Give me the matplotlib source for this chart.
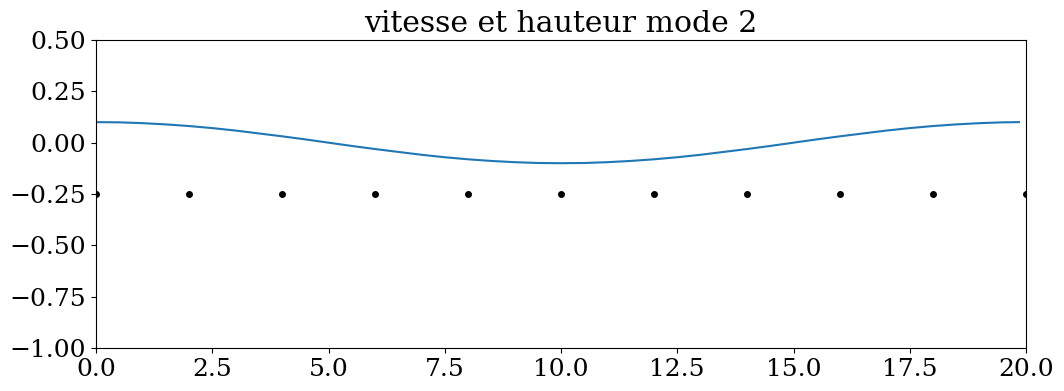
import matplotlib.pyplot as plt
import numpy as np

plt.rcParams['font.family'] = 'DejaVu Serif'
plt.rcParams['font.size'] = 18

# surface height
xs = [0.0, 0.5, 1.0, 1.5, 2.0, 2.5, 3.0, 3.5, 4.0, 4.5, 5.0, 5.5, 6.0, 6.5, 7.0,
      7.5, 8.0, 8.5, 9.0, 9.5, 10.0, 10.5, 11.0, 11.5, 12.0, 12.5, 13.0, 13.5,
      14.0, 14.5, 15.0, 15.5, 16.0, 16.5, 17.0, 17.5, 18.0, 18.5, 19.0, 19.5, 19.85]
hs = [0.100, 0.099, 0.095, 0.089, 0.081, 0.071, 0.059, 0.045, 0.031, 0.016, 0.000,
      -0.016, -0.031, -0.045, -0.059, -0.071, -0.081, -0.089, -0.095, -0.099, -0.100,
      -0.099, -0.095, -0.089, -0.081, -0.071, -0.059, -0.045, -0.031, -0.016, 0.000,
      0.016, 0.031, 0.045, 0.059, 0.071, 0.081, 0.089, 0.095, 0.099, 0.100]

# particles
px = [0, 2, 4, 6, 8, 10, 12, 14, 16, 18, 20]
py = [-0.25] * 11

fig = plt.figure(figsize=(10.64, 3.91), dpi=100)
ax = fig.add_axes([96 / 1064, 1 - 348 / 391, 930 / 1064, 308 / 391])
ax.plot(xs, hs)
ax.plot(px, py, 'ko', markersize=4)
ax.set_xlim(0, 20)
ax.set_ylim(-1, 0.5)
ax.set_title('vitesse et hauteur mode 2', fontsize=21.5)
fig.savefig('out.png', dpi=100)
